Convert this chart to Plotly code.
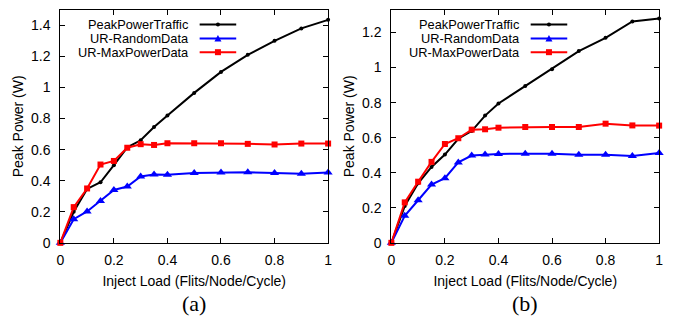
import plotly.graph_objects as go

# ---------------- data ----------------
inject_load = [0, 0.05, 0.1, 0.15, 0.2, 0.25, 0.3, 0.35, 0.4, 0.5, 0.6, 0.7, 0.8, 0.9, 1.0]

a_peak_traffic = [0, 0.20, 0.347, 0.39, 0.50, 0.615, 0.66, 0.745, 0.82, 0.965, 1.10, 1.21, 1.30, 1.38, 1.435]
a_ur_random = [0, 0.152, 0.202, 0.27, 0.34, 0.362, 0.427, 0.44, 0.438, 0.45, 0.452, 0.454, 0.45, 0.444, 0.452]
a_ur_maxpower = [0, 0.23, 0.35, 0.504, 0.527, 0.612, 0.635, 0.63, 0.641, 0.641, 0.641, 0.637, 0.633, 0.639, 0.639]

b_peak_traffic = [0, 0.21, 0.34, 0.433, 0.504, 0.594, 0.638, 0.726, 0.795, 0.895, 0.99, 1.094, 1.17, 1.263, 1.28]
b_ur_random = [0, 0.154, 0.243, 0.333, 0.369, 0.459, 0.498, 0.504, 0.507, 0.509, 0.509, 0.502, 0.502, 0.496, 0.513]
b_ur_maxpower = [0, 0.231, 0.349, 0.462, 0.564, 0.597, 0.646, 0.648, 0.657, 0.661, 0.661, 0.661, 0.68, 0.67, 0.669]

series_names = ["PeakPowerTraffic", "UR-RandomData", "UR-MaxPowerData"]
panel_labels = ["(a)", "(b)"]
x_ticks = [0, 0.2, 0.4, 0.6, 0.8, 1]
y_ticks = [0, 0.2, 0.4, 0.6, 0.8, 1, 1.2, 1.4]
y_ranges = [[0, 1.5], [0, 1.33]]

# ---------------- styles ----------------
colors = ["#000000", "#0000ff", "#ff0000"]
symbols = ["circle", "triangle-up", "square"]
msizes = [4, 8, 6]
W, H = 675, 324
SANS = "Liberation Sans, Arial, sans-serif"
SERIF = "Liberation Serif, Times New Roman, serif"

fig = go.Figure()

panels = [
    ("x", "y", [a_peak_traffic, a_ur_random, a_ur_maxpower]),
    ("x2", "y2", [b_peak_traffic, b_ur_random, b_ur_maxpower]),
]
for xa, ya, data in panels:
    for i, vals in enumerate(data):
        fig.add_trace(go.Scatter(
            x=inject_load, y=vals, xaxis=xa, yaxis=ya,
            mode="lines+markers", name=series_names[i], showlegend=False,
            line=dict(color=colors[i], width=2),
            marker=dict(color=colors[i], symbol=symbols[i], size=msizes[i]),
            cliponaxis=False,
        ))

x_domains = [[57 / W, 328 / W], [392 / W, 663 / W]]
y_domain = [(H - 249) / H, (H - 10) / H]

axis_common = dict(
    showgrid=False, zeroline=False, showline=True, linecolor="black", linewidth=1,
    mirror="ticks", ticks="inside", ticklen=5, tickcolor="black",
    tickfont=dict(family=SANS, size=14, color="black"),
)
layout = dict(
    width=W, height=H, margin=dict(l=0, r=0, t=0, b=0),
    paper_bgcolor="white", plot_bgcolor="white", showlegend=False,
)
for k in range(2):
    sx = "" if k == 0 else "2"
    layout["xaxis" + sx] = dict(
        axis_common, domain=x_domains[k], range=[0, 1], tickvals=x_ticks,
        anchor="y" + sx, ticklabelstandoff=4,
        title=dict(text="Inject Load (Flits/Node/Cycle)", font=dict(family=SANS, size=14, color="black"), standoff=9),
    )
    layout["yaxis" + sx] = dict(
        axis_common, domain=y_domain, range=y_ranges[k], tickvals=y_ticks,
        anchor="x" + sx, ticklabelstandoff=6,
        title=dict(text="Peak Power (W)", font=dict(family=SANS, size=14, color="black"), standoff=4),
    )
fig.update_layout(**layout)

# panel labels
for k in range(2):
    cx = (x_domains[k][0] + x_domains[k][1]) / 2
    fig.add_annotation(x=cx, y=1 - 311 / H, xref="paper", yref="paper",
                       text=panel_labels[k], showarrow=False,
                       font=dict(family=SERIF, size=22, color="black"),
                       xanchor="center", yanchor="middle")

# manual gnuplot-style legends (text right, sample on the right)
row_y = [25, 39.5, 53.5]
legend_text_right = [189, 524]
for k in range(2):
    tx = legend_text_right[k]
    for i, name in enumerate(series_names):
        py = 1 - row_y[i] / H
        fig.add_annotation(x=tx / W, y=py, xref="paper", yref="paper", text=name,
                           showarrow=False, xanchor="right", yanchor="middle",
                           font=dict(family=SANS, size=12.8, color="black"))
        fig.add_shape(type="line", xref="paper", yref="paper",
                      x0=(tx + 9) / W, x1=(tx + 46) / W, y0=py, y1=py,
                      line=dict(color=colors[i], width=2))
        mx = (tx + 27.5) / W
        if i == 0:
            fig.add_shape(type="circle", xref="paper", yref="paper",
                          xsizemode="pixel", ysizemode="pixel", xanchor=mx, yanchor=py,
                          x0=-2, x1=2, y0=-2, y1=2,
                          fillcolor=colors[i], line=dict(color=colors[i], width=0))
        elif i == 1:
            fig.add_shape(type="path", xref="paper", yref="paper",
                          xsizemode="pixel", ysizemode="pixel", xanchor=mx, yanchor=py,
                          path="M -3.5 -3 L 3.5 -3 L 0 3.5 Z",
                          fillcolor=colors[i], line=dict(color=colors[i], width=0))
        else:
            fig.add_shape(type="rect", xref="paper", yref="paper",
                          xsizemode="pixel", ysizemode="pixel", xanchor=mx, yanchor=py,
                          x0=-3, x1=3, y0=-3, y1=3,
                          fillcolor=colors[i], line=dict(color=colors[i], width=0))

fig.write_html("out.html")
